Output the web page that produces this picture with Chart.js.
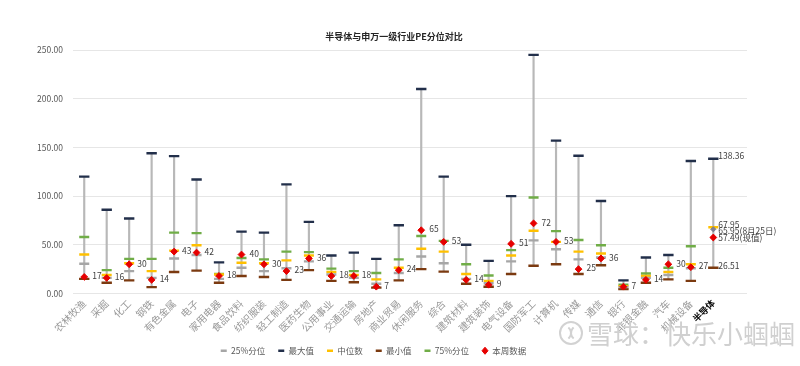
<!DOCTYPE html>
<html><head><meta charset="utf-8">
<script src="https://cdn.jsdelivr.net/npm/chart.js@4.4.0/dist/chart.umd.min.js"></script>
<style>html,body{margin:0;padding:0;background:#fff;}#wrap{width:800px;height:366px;position:relative;}</style>
</head><body><div id="wrap"><canvas id="c" width="800" height="366"></canvas></div>
<script>
const chartTitle = '半导体与申万一级行业PE分位对比';
const categories = ['农林牧渔','采掘','化工','钢铁','有色金属','电子','家用电器','食品饮料','纺织服装','轻工制造','医药生物','公用事业','交通运输','房地产','商业贸易','休闲服务','综合','建筑材料','建筑装饰','电气设备','国防军工','计算机','传媒','通信','银行','非银金融','汽车','机械设备','半导体'];
const maxValues    = [120,86,77,144,141,117,32,63.5,62.5,112,73.5,39,42,35.5,70,210,120,50,33.5,100,245,157,141.5,95,13.5,37,39.5,136,138.36];
const q75Values    = [58,24,35.5,35.5,62.5,62,20,36.5,35,43,42.5,25.5,23,21,35,59,54,30,18.5,44.5,98.5,64,55,49.5,9,20.5,26.5,48.5,null];
const medianValues = [40,19,31,23,44,49.5,19.5,31.5,31,34,39,22,19,14.5,26.5,46,43,20,13,39,64.5,53,43,41,7.5,18,22,30,67.95];
const q25Values    = [30.5,16,23,16,36,39.5,15,26.5,23,26,33,19.5,16,10,21,38,31,15,10.5,33,54.5,45.5,35,37,6.5,16,19,26,65.95];
const minValues    = [15,11,13.5,6.5,22,23.5,11,18,17,14,24,13,11.5,6,13.5,25,22.5,10,7,20,28.5,30,20,29,4.5,11,14.5,13,26.51];
const currentValues= [17,16,30,14,43,42,18,40,30,23,36,18,18,7,24,65,53,14,9,51,72,53,25,36,7,14,30,27,57.49];
const yTickValues  = [0,50,100,150,200,250];
const legendOrder  = ['25%分位','最大值','中位数','最小值','75%分位','本周数据'];
const semiSuffix   = {current:'(现值)', q25:'(8月25日)'};
const watermarkText = '雪球：快乐小蝈蝈';

const FONT = '"Noto Sans CJK SC","Noto Sans",sans-serif';
Chart.defaults.font.family = FONT;
const semiIdx = categories.length - 1;
const labels = categories.concat(['']);

function dashSet(label, data, color, extra) {
  return Object.assign({
    type: 'line', label, data, showLine: false,
    pointStyle: 'line', pointRadius: 5, pointHoverRadius: 5,
    pointBorderWidth: 2.4, pointHoverBorderWidth: 2.4,
    borderColor: color, backgroundColor: color,
    pointBorderColor: color, pointBackgroundColor: color, order: 0
  }, extra || {});
}

const datasets = [
  dashSet('本周数据', currentValues, '#e60000', {pointStyle:'rectRot', pointRadius:3.4, pointHoverRadius:3.4, pointBorderWidth:1, pointHoverBorderWidth:1, key:'current'}),
  dashSet('25%分位', q25Values, '#a6a6a6', {
    key:'q25',
    pointStyle: c => c.dataIndex === semiIdx ? 'rectRot' : 'line',
    pointRadius: c => c.dataIndex === semiIdx ? 2.6 : 5,
    pointBorderWidth: c => c.dataIndex === semiIdx ? 1 : 2.4,
    pointBorderColor: c => c.dataIndex === semiIdx ? '#7f7f8f' : '#a6a6a6',
    pointBackgroundColor: c => c.dataIndex === semiIdx ? '#7f7f8f' : '#a6a6a6'
  }),
  dashSet('中位数', medianValues, '#ffc000', {key:'median'}),
  dashSet('75%分位', q75Values, '#70ad47', {key:'q75'}),
  dashSet('最大值', maxValues, '#222f4a', {key:'max', pointRadius:5.2}),
  dashSet('最小值', minValues, '#7b3a10', {key:'min', pointRadius:5.2}),
  {type:'bar', label:'range', data: categories.map((_, i) => [minValues[i], maxValues[i]]),
   backgroundColor:'#b8b8b8', borderWidth:0, barThickness:1.5, order:1, key:'range'}
];

const titlePlugin = {
  id:'customTitle',
  afterDraw(chart) {
    const ctx = chart.ctx; ctx.save();
    ctx.font = 'bold 9px ' + FONT; ctx.fillStyle = '#262626';
    ctx.textAlign = 'center'; ctx.textBaseline = 'middle';
    ctx.fillText(chartTitle, 394, 37);
    ctx.restore();
  }
};

const labelPlugin = {
  id:'valueLabels',
  afterDatasetsDraw(chart) {
    const ctx = chart.ctx; ctx.save();
    ctx.textAlign = 'left'; ctx.textBaseline = 'middle';
    ctx.fillStyle = '#404040';
    ctx.font = '8.5px ' + FONT;
    const cur = chart.getDatasetMeta(0);
    cur.data.forEach((pt, i) => {
      if (i >= semiIdx || currentValues[i] == null) return;
      ctx.fillText(String(currentValues[i]), pt.x + 8, pt.y - 1);
    });
    const specs = [
      [4, '', -2.5], [2, '', -3], [1, semiSuffix.q25, 2], [0, semiSuffix.current, 0.5], [5, '', -2]
    ];
    specs.forEach(([di, suf, dy]) => {
      const ds = chart.data.datasets[di];
      const pt = chart.getDatasetMeta(di).data[semiIdx];
      ctx.fillText(ds.data[semiIdx].toFixed(2) + suf, pt.x + 5, pt.y + dy);
    });
    ctx.restore();
  }
};

const watermarkPlugin = {
  id:'watermark',
  afterDraw(chart) {
    const ctx = chart.ctx; ctx.save();
    ctx.strokeStyle = '#d2d2d2'; ctx.lineWidth = 2;
    ctx.beginPath(); ctx.arc(571, 333, 11, 0, Math.PI*2); ctx.stroke();
    ctx.beginPath(); ctx.arc(564, 333, 7, -0.9, 0.9); ctx.stroke();
    ctx.beginPath(); ctx.arc(578, 333, 7, Math.PI-0.9, Math.PI+0.9); ctx.stroke();
    ctx.font = '26px ' + FONT; ctx.fillStyle = '#d0d0d0';
    ctx.textAlign = 'left'; ctx.textBaseline = 'middle';
    ctx.fillText(watermarkText, 587, 334);
    ctx.restore();
  }
};

new Chart(document.getElementById('c'), {
  type: 'bar',
  data: { labels, datasets },
  options: {
    responsive: false, animation: false, devicePixelRatio: 1, events: [],
    layout: { padding: { left: 0, right: 53, top: 50, bottom: 1 } },
    plugins: {
      title: { display: false },
      tooltip: { enabled: false },
      legend: {
        position: 'bottom',
        labels: {
          usePointStyle: true, pointStyleWidth: 6, boxHeight: 5, padding: 13,
          color: '#595959', font: { size: 8.5 },
          filter: item => item.text !== 'range',
          sort: (a, b) => legendOrder.indexOf(a.text) - legendOrder.indexOf(b.text)
        }
      }
    },
    scales: {
      x: {
        offset: true,
        grid: { display: false, drawTicks: false },
        border: { display: false },
        afterFit: s => { s.height = 40; },
        ticks: {
          autoSkip: false, maxRotation: 45, minRotation: 45, padding: 4,
          color: c => c.index === semiIdx ? '#000000' : '#999999',
          font: c => c.index === semiIdx ? { size: 9, weight: 'bold' } : { size: 10 }
        }
      },
      y: {
        min: 0, max: 250,
        afterFit: s => { s.width = 73; },
        afterBuildTicks: s => { s.ticks = yTickValues.map(v => ({ value: v })); },
        grid: { color: '#e6e6e6', drawTicks: false },
        border: { display: false },
        ticks: { padding: 10, color: '#595959', font: { size: 8.5 }, callback: v => Number(v).toFixed(2) }
      }
    }
  },
  plugins: [titlePlugin, labelPlugin, watermarkPlugin]
});
</script></body></html>
